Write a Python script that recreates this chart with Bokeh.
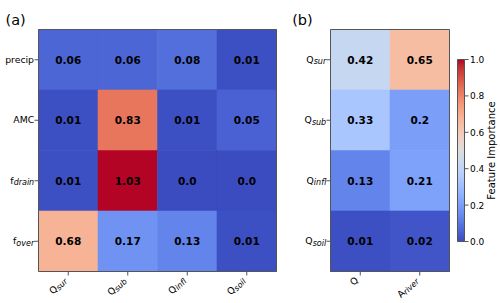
import math
import numpy as np
from bokeh.plotting import figure
from bokeh.layouts import row
from bokeh.core.properties import value
from bokeh.models import (ColumnDataSource, LabelSet, Label, LinearColorMapper, Range1d)
from bokeh.transform import transform
from bokeh.embed import file_html
from bokeh.resources import INLINE

# ---------------- data ----------------
ROWS_A = ["precip", "AMC", "f_drain", "f_over"]
COLS_A = ["Q_sur", "Q_sub", "Q_infl", "Q_soil"]
VALUES_A = [
    [0.06, 0.06, 0.08, 0.01],
    [0.01, 0.83, 0.01, 0.05],
    [0.01, 1.03, 0.0, 0.0],
    [0.68, 0.17, 0.13, 0.01],
]
ROWS_B = ["Q_sur", "Q_sub", "Q_infl", "Q_soil"]
COLS_B = ["Q", "A_river"]
VALUES_B = [
    [0.42, 0.65],
    [0.33, 0.2],
    [0.13, 0.21],
    [0.01, 0.02],
]
CB_TICKS = [0.0, 0.2, 0.4, 0.6, 0.8, 1.0]
CB_LABEL = "Feature Importance"
TITLES = ["(a)", "(b)"]

# ---------------- style ----------------
FONT = "DejaVu Sans"
BASE_PX = 9.3
SUB_PX = 8.0
CELL_PX = 10.5
EDGE = "#555555"
H = 300
TOP, BOTTOM = 29, 29     # px above / below the heatmap box
TICK = 4.0

# coolwarm (Moreland) anchor colours -> 256 palette
_CW = [
    (59, 76, 192), (68, 90, 204), (77, 104, 215), (87, 117, 225), (98, 130, 234),
    (108, 142, 241), (119, 154, 247), (130, 165, 251), (141, 176, 254), (152, 185, 255),
    (163, 194, 255), (174, 201, 253), (184, 208, 249), (194, 213, 244), (204, 217, 238),
    (213, 219, 230), (221, 221, 221), (229, 216, 209), (236, 211, 197), (241, 204, 185),
    (245, 196, 173), (247, 187, 160), (247, 177, 148), (247, 166, 135), (244, 154, 123),
    (241, 141, 111), (236, 127, 99), (229, 112, 88), (222, 96, 77), (213, 80, 66),
    (203, 62, 56), (192, 40, 47), (180, 4, 38)]
_cw = np.array(_CW, dtype=float)
_pos = np.linspace(0, 1, len(_CW))
_t = np.linspace(0, 1, 256)
PALETTE = ["#%02x%02x%02x" % tuple(int(round(np.interp(tt, _pos, _cw[:, k]))) for k in range(3))
           for tt in _t]
mapper = LinearColorMapper(palette=PALETTE, low=0.0, high=1.0,
                           high_color=PALETTE[-1], low_color=PALETTE[0])

# DejaVu Sans advance widths (em)
ADV = {"p": .635, "r": .411, "e": .615, "c": .550, "i": .278, "A": .684, "M": .863,
       "C": .698, "f": .352, "d": .635, "a": .613, "n": .634, "o": .612, "v": .592,
       "Q": .787, "s": .521, "u": .634, "b": .635, "l": .278}


def tw(s, px):
    return sum(ADV.get(ch, 0.6) for ch in s) * px


def split(lbl):
    if "_" in lbl:
        b, s = lbl.split("_", 1)
        return b, s
    return lbl, ""


def canvas_figure(width, x0, x1, y0, y1, left, right):
    """Figure whose frame is the whole canvas; data box [x0,x1]x[y0,y1]
    occupies the pixel box (left .. width-right, TOP .. H-BOTTOM)."""
    kx = (width - left - right) / (x1 - x0)
    ky = (H - TOP - BOTTOM) / (y1 - y0)
    p = figure(width=width, height=H,
               x_range=Range1d(x0 - left / kx, x1 + right / kx),
               y_range=Range1d(y0 - BOTTOM / ky, y1 + TOP / ky),
               output_backend="svg", toolbar_location=None,
               x_axis_location=None, y_axis_location=None,
               min_border=0, min_border_left=0, min_border_right=0,
               min_border_top=0, min_border_bottom=0)
    p.grid.visible = False
    p.outline_line_color = None
    p.background_fill_color = "white"
    p.border_fill_color = "white"
    return p, kx, ky


def label_sets(p, base, sub):
    p.add_layout(LabelSet(x="x", y="y", x_offset="xo", y_offset="yo", text="t", angle="a",
                          source=ColumnDataSource(base), text_align="left",
                          text_baseline="alphabetic", text_font=value(FONT),
                          text_font_size=value("%gpx" % BASE_PX), text_color="black"))
    if sub["t"]:
        p.add_layout(LabelSet(x="x", y="y", x_offset="xo", y_offset="yo", text="t", angle="a",
                              source=ColumnDataSource(sub), text_align="left",
                              text_baseline="alphabetic", text_font=value(FONT),
                              text_font_style="italic",
                              text_font_size=value("%gpx" % SUB_PX), text_color="black"))


def heat_figure(rows, cols, values, width, left, right, title, title_dx):
    nr, nc = len(rows), len(cols)
    p, kx, ky = canvas_figure(width, 0, nc, 0, nr, left, right)

    xs, ys, vs, ts = [], [], [], []
    for i, r in enumerate(rows):
        for j, c in enumerate(cols):
            xs.append(j + 0.5)
            ys.append(nr - 0.5 - i)
            vs.append(values[i][j])
            ts.append(str(values[i][j]))
    src = ColumnDataSource(dict(x=xs, y=ys, v=vs, t=ts))
    p.rect("x", "y", width=1, height=1, source=src,
           fill_color=transform("v", mapper), line_color=transform("v", mapper),
           line_width=0.6)
    p.text("x", "y", text="t", source=src, text_align="center", text_baseline="middle",
           text_font=value(FONT), text_font_style="bold",
           text_font_size=value("%gpx" % CELL_PX), text_color="black")
    # box outline
    p.quad(left=[0], right=[nc], bottom=[0], top=[nr], fill_color=None,
           line_color=EDGE, line_width=1)

    xt = [j + 0.5 for j in range(nc)]
    yt = [nr - 0.5 - i for i in range(nr)]
    # tick marks
    p.segment(x0=xt, y0=[0] * nc, x1=xt, y1=[-TICK / ky] * nc, line_color=EDGE, line_width=1)
    p.segment(x0=[0] * nr, y0=yt, x1=[-TICK / kx] * nr, y1=yt, line_color=EDGE, line_width=1)

    base = dict(x=[], y=[], xo=[], yo=[], t=[], a=[])
    sub = dict(x=[], y=[], xo=[], yo=[], t=[], a=[])
    gap = 4.3
    for i, lbl in enumerate(rows):
        b, s = split(lbl)
        wb, ws = tw(b, BASE_PX), tw(s, SUB_PX)
        w = wb + ws
        base["x"].append(0); base["y"].append(yt[i])
        base["xo"].append(-gap - w); base["yo"].append(-3.0)
        base["t"].append(b); base["a"].append(0.0)
        if s:
            sub["x"].append(0); sub["y"].append(yt[i])
            sub["xo"].append(-gap - w + wb); sub["yo"].append(-3.0 - 1.5)
            sub["t"].append(s); sub["a"].append(0.0)
    th = math.radians(45)
    c, sn = math.cos(th), math.sin(th)
    for j, lbl in enumerate(cols):
        b, s = split(lbl)
        wb, ws = tw(b, BASE_PX), tw(s, SUB_PX)
        w = wb + ws
        ox = -w * c - 1.3
        oy = w * sn + 9.3          # screen-down
        base["x"].append(xt[j]); base["y"].append(0)
        base["xo"].append(ox); base["yo"].append(-oy)
        base["t"].append(b); base["a"].append(th)
        if s:
            shift = 1.5
            sx = ox + wb * c + shift * sn
            sy = oy - wb * sn + shift * c
            sub["x"].append(xt[j]); sub["y"].append(0)
            sub["xo"].append(sx); sub["yo"].append(-sy)
            sub["t"].append(s); sub["a"].append(th)
    label_sets(p, base, sub)

    p.add_layout(Label(x=0, y=nr, x_offset=title_dx, y_offset=9.9, text=title,
                       text_font=FONT, text_font_size="14.5px", text_align="left",
                       text_baseline="alphabetic", text_color="black"))
    return p


pA = heat_figure(ROWS_A, COLS_A, VALUES_A, width=278, left=38, right=2,
                 title=TITLES[0], title_dx=-33)
pB = heat_figure(ROWS_B, COLS_B, VALUES_B, width=173, left=52, right=2,
                 title=TITLES[1], title_dx=-38.3)

# colour bar: bar spans px 6..13 horizontally, 59..241 vertically
lo, hi = CB_TICKS[0], CB_TICKS[-1]
W_C = 49
kxc = 7.0
kyc = 182.0 / (hi - lo)
pC = figure(width=W_C, height=H,
            x_range=Range1d(-6 / kxc, 1 + (W_C - 13) / kxc),
            y_range=Range1d(lo - 59 / kyc, hi + 59 / kyc),
            output_backend="svg", toolbar_location=None,
            x_axis_location=None, y_axis_location=None,
            min_border=0, min_border_left=0, min_border_right=0,
            min_border_top=0, min_border_bottom=0)
pC.grid.visible = False
pC.outline_line_color = None
pC.border_fill_color = "white"
grad = np.linspace(lo, hi, 256).reshape(-1, 1)
pC.image(image=[grad], x=0, y=lo, dw=1, dh=hi - lo, color_mapper=mapper)
pC.quad(left=[0], right=[1], bottom=[lo], top=[hi], fill_color=None,
        line_color=EDGE, line_width=1)
nt = len(CB_TICKS)
pC.segment(x0=[1] * nt, y0=CB_TICKS, x1=[1 + TICK / kxc] * nt, y1=CB_TICKS,
           line_color=EDGE, line_width=1)
pC.add_layout(LabelSet(x="x", y="y", text="t", x_offset=5.5, y_offset=0,
                       source=ColumnDataSource(dict(x=[1] * nt, y=CB_TICKS,
                                                    t=["%.1f" % v for v in CB_TICKS])),
                       text_align="left", text_baseline="middle", text_font=value(FONT),
                       text_font_size=value("9px"), text_color="black"))
pC.add_layout(Label(x=1, y=(lo + hi) / 2, x_offset=26.7, y_offset=0, text=CB_LABEL,
                    angle=math.pi / 2, text_align="center", text_baseline="middle",
                    text_font=FONT, text_font_size="10px", text_color="black"))

layout = row(pA, pB, pC)
open("out.html", "w").write(file_html(layout, INLINE))
